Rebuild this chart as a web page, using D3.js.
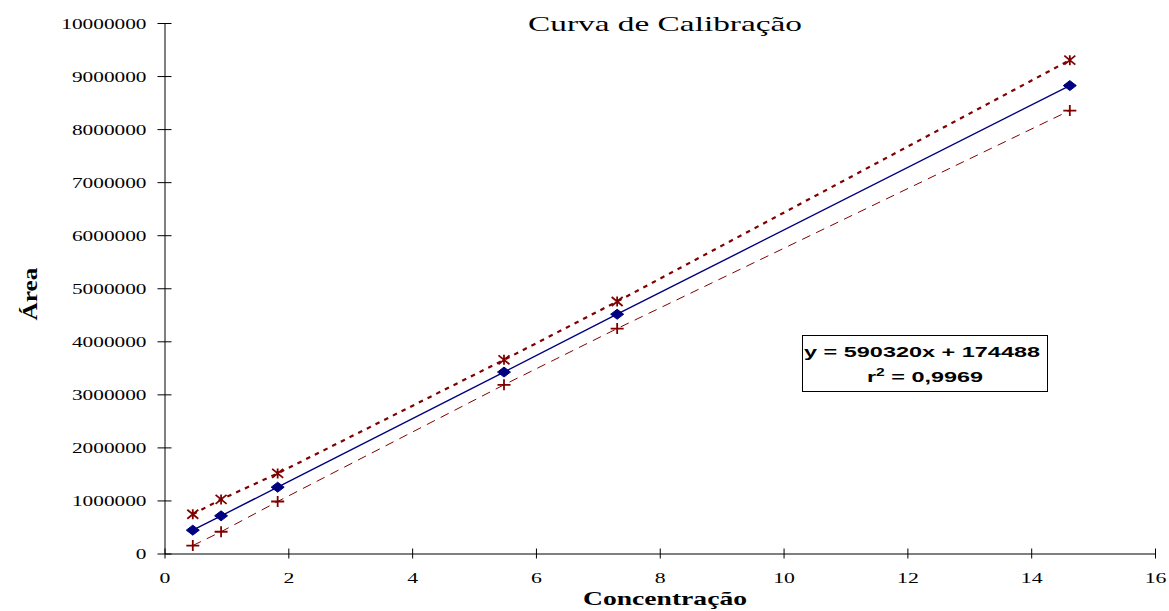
<!DOCTYPE html>
<html>
<head>
<meta charset="utf-8">
<script src="https://cdn.jsdelivr.net/npm/d3@7"></script>
<style>
  body { margin: 0; background: #fff; }
  svg { display: block; }
  .tick text { font-family: "Liberation Serif", "Times New Roman", serif; font-size: 15px; fill: #000; }
  .axis path, .axis line { stroke: #000; }
</style>
</head>
<body>
<div id="chart"></div>
<script>
// concentrations and peak areas
const concentrations = [0.457, 0.914, 1.828, 5.484, 7.312, 14.624];
const areaMean  = [440000, 710000, 1250000, 3420000, 4510000, 8820000];
const areaUpper = [740000, 1020000, 1510000, 3650000, 4750000, 9300000];
const areaLower = [150000, 410000, 980000, 3180000, 4240000, 8350000];
const xTicks = [0, 2, 4, 6, 8, 10, 12, 14, 16];
const yTicks = [0, 1000000, 2000000, 3000000, 4000000, 5000000, 6000000, 7000000, 8000000, 9000000, 10000000];
const equationLines = ["y = 590320x + 174488", "r2 = 0,9969"];

const width = 1169, height = 611;
const navy = "#000080", darkRed = "#800000";

const svg = d3.select("#chart").append("svg")
    .attr("width", width)
    .attr("height", height);

const x = d3.scaleLinear().domain([0, 16]).range([164.5, 1155]);
const y = d3.scaleLinear().domain([0, 10000000]).range([553.5, 23]);

// the original picture is stretched horizontally, so widen the glyphs
function stretch(sel, k) {
  sel.each(function() {
    const w = this.getComputedTextLength();
    this.setAttribute("textLength", w * k);
    this.setAttribute("lengthAdjust", "spacingAndGlyphs");
  });
}

// axes
const xAxisG = svg.append("g")
    .attr("class", "axis")
    .attr("transform", `translate(0,${y(0)})`)
    .call(d3.axisBottom(x).tickValues(xTicks).tickSize(5).tickSizeOuter(0).tickPadding(14).tickFormat(d3.format("d")));
xAxisG.selectAll(".tick line").attr("y1", -5);
xAxisG.selectAll(".tick text").call(stretch, 1.45);

const yAxisG = svg.append("g")
    .attr("class", "axis")
    .attr("transform", `translate(${x(0)},0)`)
    .call(d3.axisLeft(y).tickValues(yTicks).tickSize(7).tickSizeOuter(0).tickPadding(11).tickFormat(d3.format("d")));
yAxisG.selectAll(".tick line").attr("x1", 7);
yAxisG.selectAll(".tick text").attr("dy", "0.35em").call(stretch, 1.42);

// titles
svg.append("text")
    .attr("x", 665).attr("y", 31)
    .attr("text-anchor", "middle")
    .style("font-family", "'Liberation Serif', serif")
    .style("font-size", "22px")
    .attr("textLength", 274).attr("lengthAdjust", "spacingAndGlyphs")
    .text("Curva de Calibração");

svg.append("text")
    .attr("x", 665).attr("y", 605)
    .attr("text-anchor", "middle")
    .style("font-family", "'Liberation Serif', serif")
    .style("font-size", "19px")
    .style("font-weight", "bold")
    .attr("textLength", 164).attr("lengthAdjust", "spacingAndGlyphs")
    .text("Concentração");

svg.append("text")
    .attr("transform", "translate(37,294) rotate(-90)")
    .attr("text-anchor", "middle")
    .style("font-family", "'Liberation Serif', serif")
    .style("font-size", "21px")
    .style("font-weight", "bold")
    .attr("textLength", 53).attr("lengthAdjust", "spacingAndGlyphs")
    .text("Área");

// series
const series = [
  {values: areaUpper, color: darkRed, width: 2.2, dash: "4.5,5.2", marker: "star"},
  {values: areaLower, color: darkRed, width: 1, dash: "9,6.5", marker: "plus"},
  {values: areaMean, color: navy, width: 1.4, dash: null, marker: "diamond"}
];

const line = d3.line()
    .x((d, i) => x(concentrations[i]))
    .y(d => y(d));

const markerPaths = {
  diamond: "M0,-5L6.5,0L0,5L-6.5,0Z",
  star: "M-5.5,-4.5L5.5,4.5M-5.5,4.5L5.5,-4.5M0,-5L0,5",
  plus: "M-6.5,0L6.5,0M0,-5.5L0,5.5"
};

series.forEach(s => {
  svg.append("path")
      .datum(s.values)
      .attr("fill", "none")
      .attr("stroke", s.color)
      .attr("stroke-width", s.width)
      .attr("stroke-dasharray", s.dash)
      .attr("d", line);

  svg.append("g").selectAll("path")
      .data(s.values)
    .join("path")
      .attr("transform", (d, i) => `translate(${x(concentrations[i])},${y(d)})`)
      .attr("d", markerPaths[s.marker])
      .attr("fill", s.marker === "diamond" ? s.color : "none")
      .attr("stroke", s.color)
      .attr("stroke-width", s.marker === "diamond" ? 1 : 1.8);
});

// equation box
const box = svg.append("g");
box.append("rect")
    .attr("x", 802.5).attr("y", 335.5)
    .attr("width", 245).attr("height", 56)
    .attr("fill", "#fff")
    .attr("stroke", "#000")
    .attr("stroke-width", 1);

box.append("text")
    .attr("x", 922).attr("y", 357)
    .attr("text-anchor", "middle")
    .style("font-family", "'Liberation Sans', Arial, sans-serif")
    .style("font-size", "15px")
    .style("font-weight", "bold")
    .attr("textLength", 236).attr("lengthAdjust", "spacingAndGlyphs")
    .text(equationLines[0]);

const eq2 = box.append("text")
    .attr("x", 925).attr("y", 382)
    .attr("text-anchor", "middle")
    .style("font-family", "'Liberation Sans', Arial, sans-serif")
    .style("font-size", "15px")
    .style("font-weight", "bold")
    .attr("textLength", 116).attr("lengthAdjust", "spacingAndGlyphs");
eq2.append("tspan").text("r");
eq2.append("tspan").attr("dy", -6).style("font-size", "10px").text("2");
eq2.append("tspan").attr("dy", 6).text(" = 0,9969");
</script>
</body>
</html>
